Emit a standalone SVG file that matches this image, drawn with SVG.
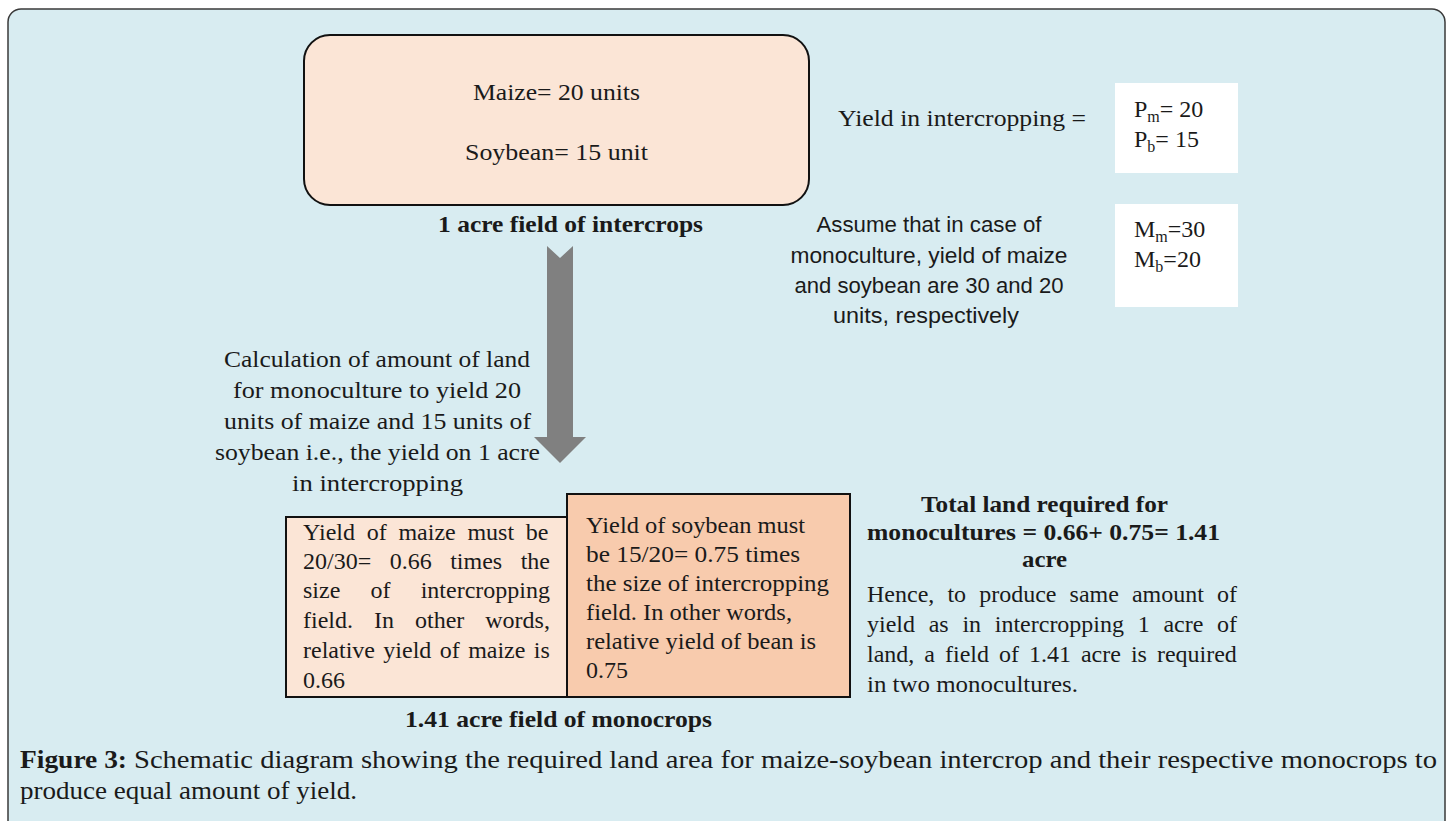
<svg xmlns="http://www.w3.org/2000/svg" width="1448" height="821" viewBox="0 0 1448 821">
<style>
.serif{font-family:"Liberation Serif","DejaVu Serif",serif;font-size:24px;fill:#1a1a1a}
.cap{font-size:25px}
.b{font-weight:bold}
.sans{font-family:"Liberation Sans","DejaVu Sans",sans-serif;font-size:22px;fill:#1a1a1a}
.sub{font-size:16px}
.box{stroke:#111;stroke-width:2}
</style>
<rect x="8" y="9" width="1437" height="840" rx="13" fill="#d8ecf1" stroke="#3a3a3a" stroke-width="1.5"/>

<g id="intercrop">
<rect class="box" x="304" y="35" width="505" height="170" rx="26" fill="#fbe5d6"/>
<text class="serif" x="473" y="100" textLength="167" lengthAdjust="spacingAndGlyphs">Maize= 20 units</text>
<text class="serif" x="465" y="160" textLength="183" lengthAdjust="spacingAndGlyphs">Soybean= 15 unit</text>
<text class="serif b" x="438" y="232" textLength="265" lengthAdjust="spacingAndGlyphs">1 acre field of intercrops</text>
</g>

<g id="yield-intercrop">
<text class="serif" x="838" y="126" textLength="248" lengthAdjust="spacingAndGlyphs">Yield in intercropping =</text>
</g>

<g id="p-box">
<rect x="1115" y="83" width="123" height="90" fill="#ffffff"/>
<text class="serif" x="1134" y="117">P<tspan class="sub" dy="5">m</tspan><tspan dy="-5">= 20</tspan></text>
<text class="serif" x="1134" y="147">P<tspan class="sub" dy="5">b</tspan><tspan dy="-5">= 15</tspan></text>
</g>

<g id="assume">
<text class="sans" text-anchor="middle" x="929" y="232" textLength="225" lengthAdjust="spacingAndGlyphs">Assume that in case of</text>
<text class="sans" text-anchor="middle" x="929" y="263" textLength="277" lengthAdjust="spacingAndGlyphs">monoculture, yield of maize</text>
<text class="sans" text-anchor="middle" x="929" y="293" textLength="269" lengthAdjust="spacingAndGlyphs">and soybean are 30 and 20</text>
<text class="sans" text-anchor="middle" x="926" y="323" textLength="186" lengthAdjust="spacingAndGlyphs">units, respectively</text>
</g>

<g id="m-box">
<rect x="1115" y="204" width="123" height="103" fill="#ffffff"/>
<text class="serif" x="1134" y="237">M<tspan class="sub" dy="5">m</tspan><tspan dy="-5">=30</tspan></text>
<text class="serif" x="1134" y="267">M<tspan class="sub" dy="5">b</tspan><tspan dy="-5">=20</tspan></text>
</g>

<g id="connectors">
<polygon points="547,246 560,258 573,246 573,437 586,437 560,463 534,437 547,437" fill="#808080"/>
</g>

<g id="calculation">
<text class="serif" x="224" y="367" textLength="306" lengthAdjust="spacingAndGlyphs">Calculation of amount of land</text>
<text class="serif" x="233" y="398" textLength="288" lengthAdjust="spacingAndGlyphs">for monoculture to yield 20</text>
<text class="serif" x="224" y="429" textLength="307" lengthAdjust="spacingAndGlyphs">units of maize and 15 units of</text>
<text class="serif" x="215" y="460" textLength="325" lengthAdjust="spacingAndGlyphs">soybean i.e., the yield on 1 acre</text>
<text class="serif" x="292" y="491" textLength="171" lengthAdjust="spacingAndGlyphs">in intercropping</text>
</g>

<g id="maize-mono">
<rect class="box" x="286" y="517" width="281" height="180" fill="#fbe5d6"/>
<text class="serif" x="303" y="540" word-spacing="5.7">Yield of maize must be</text>
<text class="serif" x="303" y="569" word-spacing="12.5">20/30= 0.66 times the</text>
<text class="serif" x="303" y="598" word-spacing="24.2">size of intercropping</text>
<text class="serif" x="303" y="628" word-spacing="15">field. In other words,</text>
<text class="serif" x="303" y="658" word-spacing="2.4">relative yield of maize is</text>
<text class="serif" x="303" y="688">0.66</text>
</g>

<g id="soy-mono">
<rect class="box" x="567" y="494" width="283" height="203" fill="#f8cbad"/>
<text class="serif" x="586" y="533" textLength="219" lengthAdjust="spacingAndGlyphs">Yield of soybean must</text>
<text class="serif" x="586" y="562" textLength="214" lengthAdjust="spacingAndGlyphs">be 15/20= 0.75 times</text>
<text class="serif" x="586" y="591" textLength="243" lengthAdjust="spacingAndGlyphs">the size of intercropping</text>
<text class="serif" x="586" y="620" textLength="206" lengthAdjust="spacingAndGlyphs">field. In other words,</text>
<text class="serif" x="586" y="649" textLength="230" lengthAdjust="spacingAndGlyphs">relative yield of bean is</text>
<text class="serif" x="586" y="678" textLength="42" lengthAdjust="spacingAndGlyphs">0.75</text>
</g>

<g id="monocrop-label">
<text class="serif b" x="405" y="727" textLength="307" lengthAdjust="spacingAndGlyphs">1.41 acre field of monocrops</text>
</g>

<g id="total">
<text class="serif b" x="921" y="512" textLength="247" lengthAdjust="spacingAndGlyphs">Total land required for</text>
<text class="serif b" x="867" y="540" textLength="353" lengthAdjust="spacingAndGlyphs">monocultures = 0.66+ 0.75= 1.41</text>
<text class="serif b" x="1022" y="567" textLength="45" lengthAdjust="spacingAndGlyphs">acre</text>
<text class="serif" x="867" y="602" word-spacing="7.1">Hence, to produce same amount of</text>
<text class="serif" x="867" y="632" word-spacing="7.7">yield as in intercropping 1 acre of</text>
<text class="serif" x="867" y="662" word-spacing="4">land, a field of 1.41 acre is required</text>
<text class="serif" x="867" y="692" textLength="211" lengthAdjust="spacingAndGlyphs">in two monocultures.</text>
</g>

<g id="caption">
<text class="serif cap b" x="20" y="768" textLength="107" lengthAdjust="spacingAndGlyphs">Figure 3:</text>
<text class="serif cap" x="134" y="768" textLength="1303" lengthAdjust="spacingAndGlyphs">Schematic diagram showing the required land area for maize-soybean intercrop and their respective monocrops to</text>
<text class="serif cap" x="20" y="799" textLength="337" lengthAdjust="spacingAndGlyphs">produce equal amount of yield.</text>
</g>
</svg>
